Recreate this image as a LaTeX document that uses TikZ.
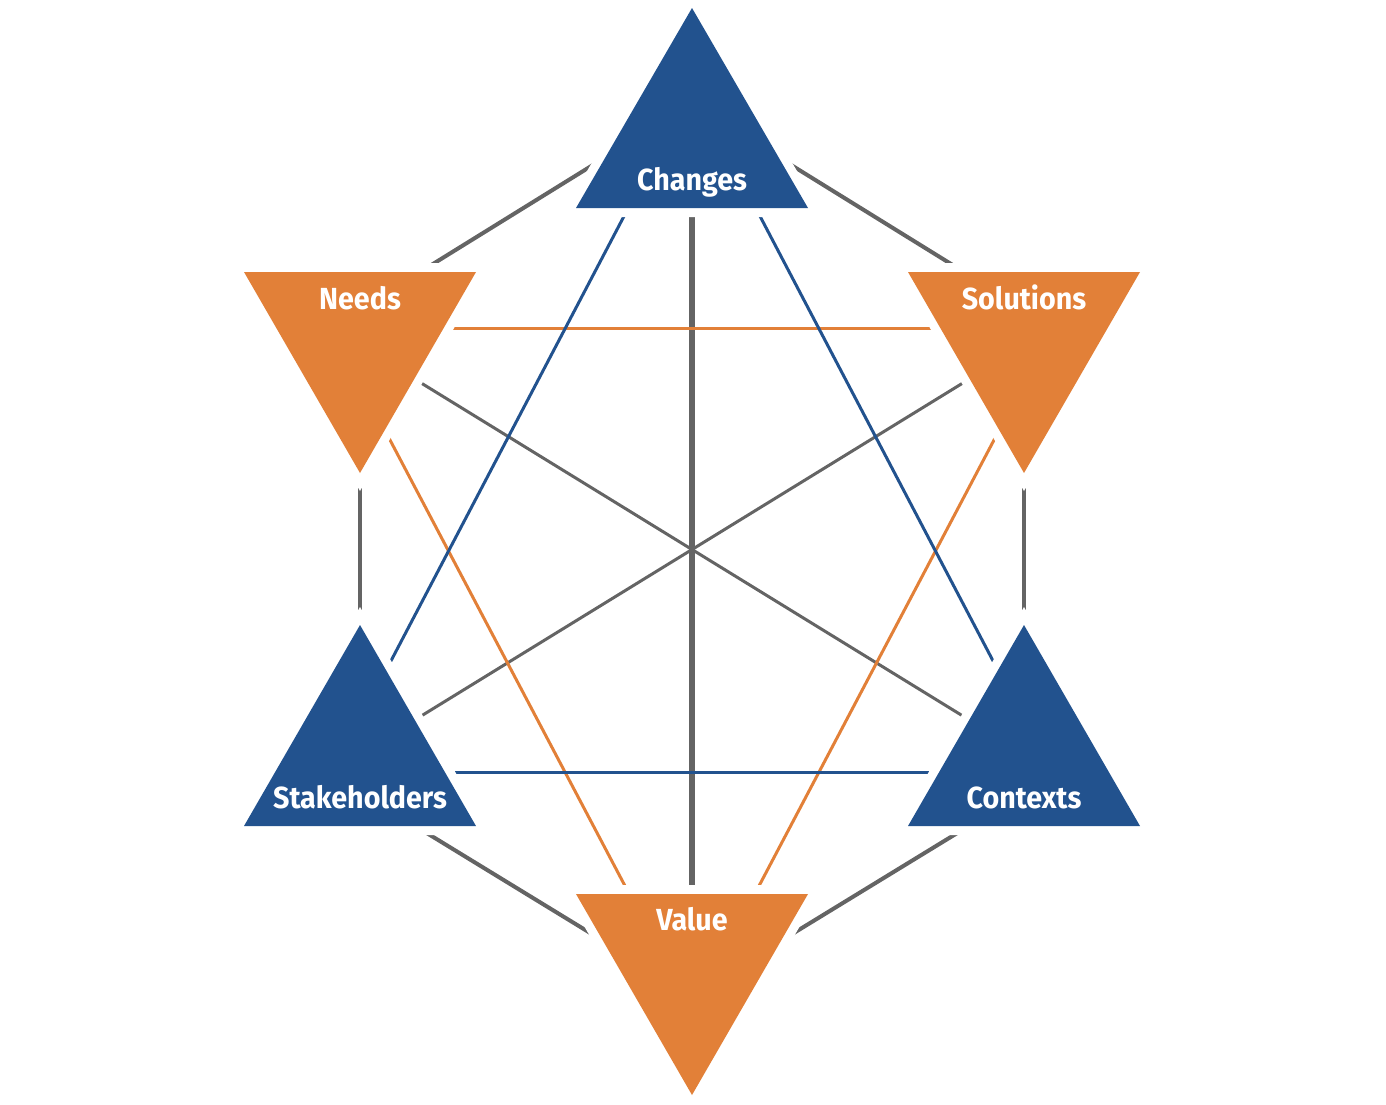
\documentclass[tikz,border=0pt]{standalone}
\usepackage{fontspec}
\setsansfont{Fira Sans}[FakeStretch=0.94]
\usepackage{xcolor}
\usepackage{tikz}
\definecolor{cBlue}{HTML}{22528E}
\definecolor{cOrange}{HTML}{E28038}
\definecolor{cGray}{HTML}{646464}
\tikzset{
  tri/.style={fill=#1,preaction={draw=white,line width=18pt,line join=miter}},
  lnk/.style={draw=#1,line width=3pt},
  lnk/.default=cGray,
  rim/.style={draw=cGray,line width=4pt},
  lbl/.style={anchor=base,text=white,inner sep=0pt,font=\sffamily\bfseries\fontsize{30.5}{36}\selectfont},
}

\begin{document}
\begin{tikzpicture}[x=1pt,y=-1pt]
  \useasboundingbox (0,0) rectangle (1386,1104);
  % ends of the links, each one inside its triangle
  \foreach \n/\px/\py in {ch-nd/622/147, nd-ch/399/285, ch-so/762/147, so-ch/985/285,
      nd-st/360/460, st-nd/360/640, so-co/1024/460, co-so/1024/640,
      st-va/394/813, va-st/623/953, co-va/990/813, va-co/761/953,
      ch-va/692/190, va-ch/692/910,
      nd-co/400/370, co-nd/984/729, so-st/984/370, st-so/400/729,
      nd-so/430/328, so-nd/954/328, st-co/430/772, co-st/954/772,
      nd-va/380/421, va-nd/634/903, so-va/1004/421, va-so/750/903,
      ch-st/633/199, st-ch/382/678, ch-co/751/199, co-ch/1002/678}
    \coordinate (\n) at (\px,\py);

  % outer ring
  \draw[rim] (ch-nd) -- (nd-ch);
  \draw[rim] (ch-so) -- (so-ch);
  \draw[rim] (nd-st) -- (st-nd);
  \draw[rim] (so-co) -- (co-so);
  \draw[rim] (st-va) -- (va-st);
  \draw[rim] (co-va) -- (va-co);
  % cross links
  \draw[cGray,line width=5.5pt] (ch-va) -- (va-ch);
  \draw[lnk] (nd-co) -- (co-nd);
  \draw[lnk] (so-st) -- (st-so);
  \draw[lnk=cOrange] (nd-so) -- (so-nd);
  \draw[lnk=cOrange] (nd-va) -- (va-nd);
  \draw[lnk=cOrange] (so-va) -- (va-so);
  \draw[lnk=cBlue] (ch-st) -- (st-ch);
  \draw[lnk=cBlue] (ch-co) -- (co-ch);
  \draw[lnk=cBlue] (st-co) -- (co-st);

  % triangles
  \path[tri=cBlue] (692,8) -- (576,208) -- (808,208) -- cycle;
  \path[tri=cOrange] (244,272) -- (476,272) -- (360,473) -- cycle;
  \path[tri=cOrange] (908,272) -- (1140,272) -- (1024,473) -- cycle;
  \path[tri=cBlue] (360,625) -- (244,826) -- (476,826) -- cycle;
  \path[tri=cBlue] (1024,625) -- (908,826) -- (1140,826) -- cycle;
  \path[tri=cOrange] (576,894) -- (808,894) -- (692,1095) -- cycle;

  \node[lbl] (ch) at (692,190) {Changes};
  \node[lbl] (nd) at (360,309) {Needs};
  \node[lbl] (so) at (1024,309) {Solutions};
  \node[lbl] (st) at (360,808) {Stakeholders};
  \node[lbl] (co) at (1024,808) {Contexts};
  \node[lbl] (va) at (692,930) {Value};
\end{tikzpicture}
\end{document}
